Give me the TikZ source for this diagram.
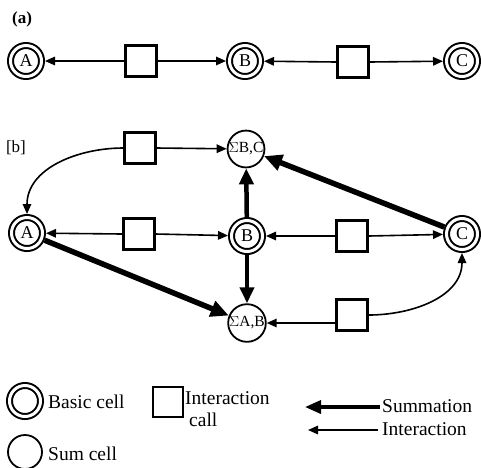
\documentclass[tikz,border=0pt]{standalone}
\usepackage{fontspec}
\setmainfont{Liberation Serif}
\usetikzlibrary{arrows.meta}
\begin{document}
\begin{tikzpicture}[x=1pt,y=-1pt,
  basic/.style={circle,draw,line width=2pt,double,double distance=3pt,
    minimum size=31pt,inner sep=0pt,outer sep=3.5pt,font=\fontsize{18}{18}\selectfont},
  sumcell/.style={circle,draw,line width=1.8pt,minimum size=36pt,inner sep=0pt,
    font=\fontsize{15.5}{15.5}\selectfont},
  icell/.style={rectangle,draw,line width=2.2pt,minimum size=31pt,inner sep=0pt},
  thin/.style={line width=1.6pt,-{Triangle[length=10pt,width=8.5pt]}},
  thick/.style={line width=5.5pt,-{Triangle[length=18pt,width=16pt]}},
  thickv/.style={line width=4.5pt,-{Triangle[length=16pt,width=14pt]}},
  lab/.style={font=\fontsize{19.5}{22}\selectfont,inner sep=0pt,anchor=west}]
\useasboundingbox (0,0) rectangle (481,467);

% (a)
\node[font=\fontsize{17}{17}\selectfont\bfseries] (la) at (22,19) {(a)};
\node[basic] (aA) at (26,61) {A};
\node[icell] (aS1) at (141,61) {};
\node[basic] (aB) at (245,61) {B};
\node[icell] (aS2) at (353,62) {};
\node[basic] (aC) at (462,61) {C};
\draw[thin] (aS1.west) -- (aA);
\draw[thin] (aS1.east) -- (aB);
\draw[thin] (aS2.west) -- (aB);
\draw[thin] (aS2.east) -- (aC);

% (b)
\node[font=\fontsize{17}{17}\selectfont] (lb) at (16,148) {[b]};
\node[icell] (bS0) at (140,148) {};
\node[sumcell] (sBC) at (246,149) {$\Sigma$B,C};
\node[basic] (bA) at (27,233) {A};
\node[icell] (bS1) at (139,234) {};
\node[basic] (bB) at (247,236) {B};
\node[icell] (bS2) at (352,236) {};
\node[basic] (bC) at (462,234) {C};
\node[sumcell] (sAB) at (247,323) {$\Sigma$A,B};
\node[icell] (bS3) at (352,315) {};

\draw[thin] (bS0.west) to[out=180,in=90] (bA.north);
\draw[thin] (bS0.east) -- (sBC);
\draw[thin] (bS1.west) -- (bA);
\draw[thin] (bS1.east) -- (bB);
\draw[thin] (bS2.west) -- (bB);
\draw[thin] (bS2.east) -- (bC);
\draw[thin] (bS3.west |- sAB) -- (sAB);
\draw[thin] (bS3.east) to[out=0,in=-90] (bC.south);
\draw[thickv] (bB) -- (sBC);
\draw[thickv] (bB) -- (sAB);
\draw[thick] (bA) -- (sAB);
\draw[thick] (bC) -- (sBC);

% legend
\node[basic] (lgB) at (25,401) {};
\node[lab] (tB) at (48,402) {Basic cell};
\node[sumcell,minimum size=34pt] (lgS) at (25,452) {};
\node[lab] (tS) at (48,454) {Sum cell};
\node[icell,minimum size=30pt] (lgI) at (168,402) {};
\node[lab,align=left,anchor=north west] (tI) at (185,391) {Interaction\\\hspace*{4pt}call};
\coordinate (sumE) at (380,407);
\coordinate (sumT) at (305,407);
\draw[line width=3.5pt,-{Triangle[length=16pt,width=13pt]}] (sumE) -- (sumT);
\node[lab] (tSum) at (382,406) {Summation};
\coordinate (intE) at (378,430);
\coordinate (intT) at (308,430);
\draw[thin] (intE) -- (intT);
\node[lab] (tInt) at (382,429) {Interaction};
\end{tikzpicture}
\end{document}
